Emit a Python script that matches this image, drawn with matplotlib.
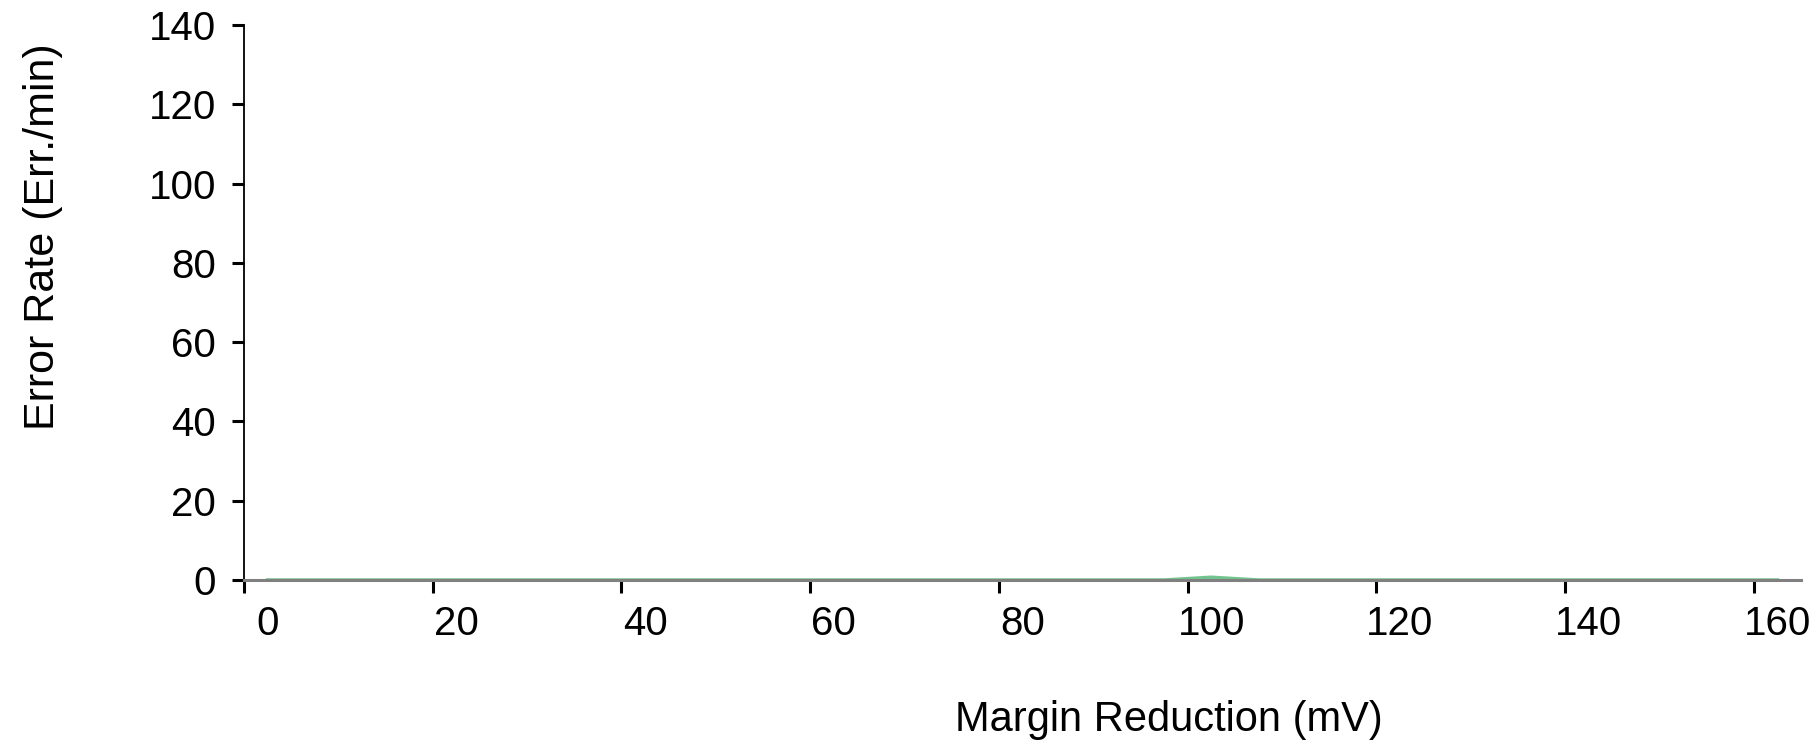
import numpy as np
import matplotlib
matplotlib.use("Agg")
import matplotlib.pyplot as plt

plt.rcParams['font.family'] = ['Liberation Sans', 'DejaVu Sans']

# margin reduction categories (mV) and measured error rate (Err./min)
margin_mv = list(range(0, 165, 5))
error_rate = [0, 0, 0, 0, 0, 0, 0, 0, 0, 0,
              0, 0, 0, 0, 0, 0, 0, 0, 0, 0,
              0.7, 0, 0, 0, 0, 0, 0, 0, 0, 0,
              0, 0, 0]
x_labels = [0, 20, 40, 60, 80, 100, 120, 140, 160]
y_ticks = [0, 20, 40, 60, 80, 100, 120, 140]

fig = plt.figure(figsize=(18.15, 7.42), dpi=100)
ax = fig.add_axes([244 / 1815, 1 - 580 / 742, (1801 - 244) / 1815, (580 - 25) / 742])

green = '#72c48e'
ax.fill_between(margin_mv, error_rate, 0, color=green, lw=0, zorder=2)
ax.plot(margin_mv, error_rate, color=green, lw=2.5, zorder=2)

ax.set_xlim(-2.5, 162.5)
ax.set_ylim(0, 140)

# ticks sit between categories, labels at category centres
ax.set_xticks(np.arange(-2.5, 160, 20))
ax.set_xticklabels([])
ax.set_xticks(x_labels, minor=True)
ax.set_xticklabels([str(v) for v in x_labels], minor=True)
ax.tick_params(axis='x', which='major', direction='out', length=9, width=2.2, color='black')
ax.tick_params(axis='x', which='minor', length=0, pad=18, labelsize=29)

ax.set_yticks(y_ticks)
ax.set_yticklabels([str(v) for v in y_ticks])
ax.tick_params(axis='y', direction='out', length=9, width=2.2, color='black', pad=11, labelsize=29)

for s in ['top', 'right']:
    ax.spines[s].set_visible(False)
ax.spines['left'].set_linewidth(1.3)
ax.spines['left'].set_color('black')
ax.spines['bottom'].set_linewidth(2.2)
ax.spines['bottom'].set_color('#808080')
ax.spines['bottom'].set_zorder(3)

fig.text(1169 / 1815, 1 - 720 / 742, 'Margin Reduction (mV)', ha='center', va='center', fontsize=30)
fig.text(43 / 1815, 1 - 237 / 742, 'Error Rate (Err./min)', ha='center', va='center',
         rotation=90, fontsize=31)

fig.savefig('out.png', dpi=100)
